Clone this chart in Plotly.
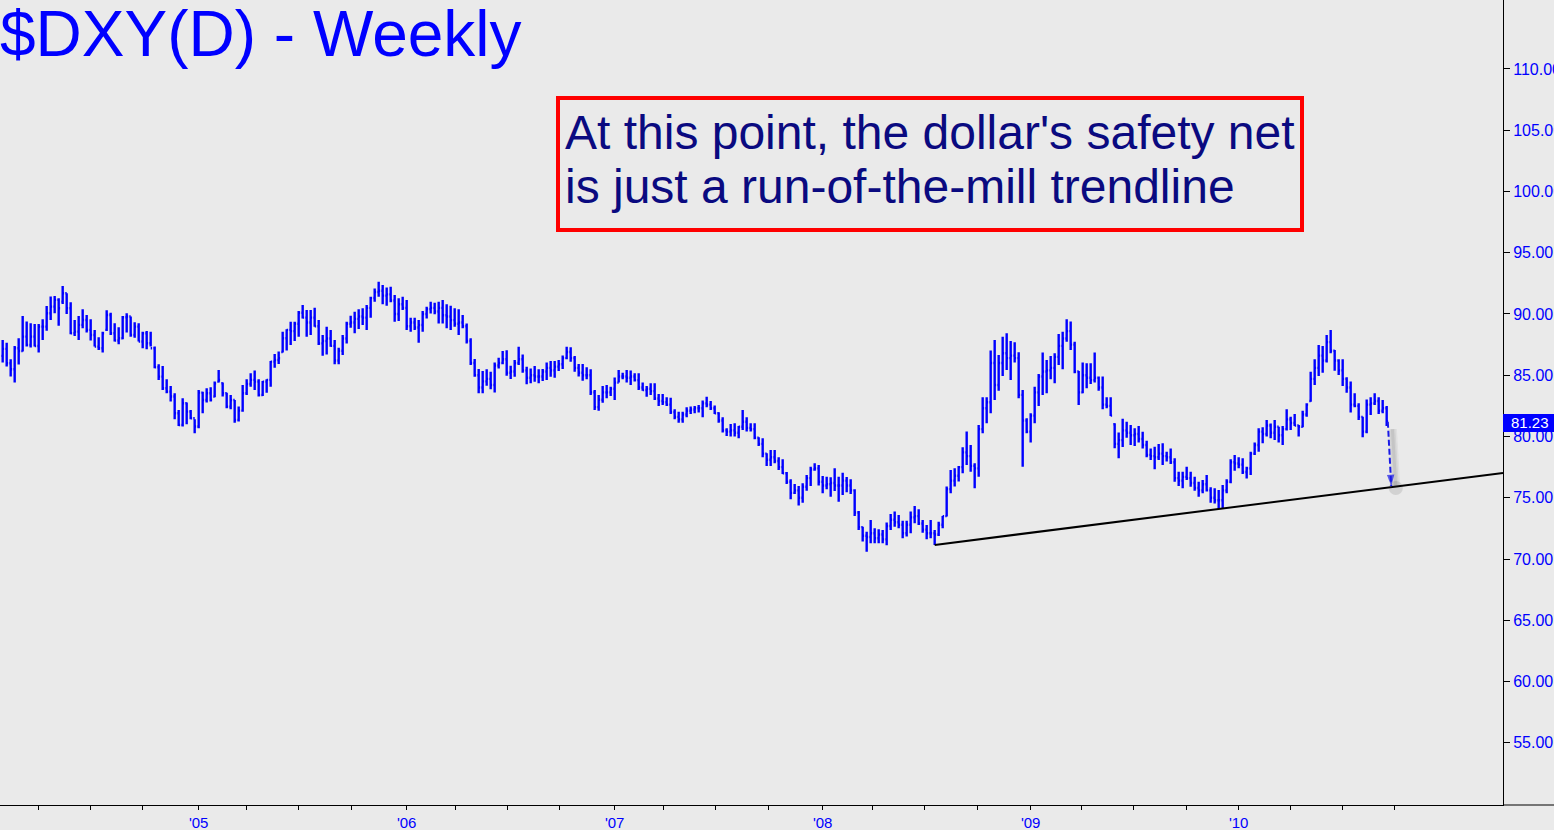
import pandas as pd
import plotly.graph_objects as go

# ---------------- data (weekly DXY bars) ----------------
first_week = "2004-01-30"

opens = [
    86.58, 87.15, 85.98, 85.49, 87.20, 86.98, 88.15, 87.47, 88.15, 87.39,
    88.97, 88.97, 90.06, 90.60, 91.15, 91.01, 91.69, 90.47, 88.43, 88.56,
    89.11, 89.51, 88.70, 88.29, 87.34, 87.20, 88.70, 89.92, 88.43, 87.83,
    88.02, 89.73, 89.79, 88.29, 88.97, 87.75, 88.43, 87.61, 87.20, 85.65,
    84.89, 83.94, 83.66, 83.26, 81.90, 80.94, 82.71, 82.03, 81.49, 80.81,
    83.58, 82.98, 83.53, 83.26, 84.48, 84.35, 83.53, 82.44, 82.98, 81.35,
    82.11, 83.53, 84.29, 84.62, 84.48, 83.39, 84.48, 84.62, 86.11, 86.25,
    86.90, 88.02,
    88.70, 88.60, 89.20, 90.10, 89.70, 89.30, 89.70, 89.00, 87.60, 87.80,
    88.00, 87.40, 86.20, 87.00, 88.00, 89.20, 89.30, 89.60, 89.80, 89.70,
    90.50, 91.30, 91.80, 91.90, 91.50, 91.60, 91.10, 90.00, 90.80, 90.50,
    89.00, 89.30, 88.90, 89.10, 90.00, 90.40, 90.50, 90.20, 90.50, 89.90,
    89.80, 89.50, 89.20, 89.30, 89.00, 87.80, 86.00, 85.00, 84.00, 84.50,
    84.70, 84.20, 85.80, 86.00, 86.30, 85.20, 85.30, 86.00, 86.30, 85.40,
    84.80, 85.00, 84.90, 84.90, 85.30, 85.60, 85.40, 85.70, 85.90, 86.40,
    86.90, 86.40, 85.60, 85.20, 85.00, 85.00, 83.60, 82.40, 83.00, 83.60,
    83.60, 83.90, 84.40, 84.90, 84.90, 84.80, 84.90, 84.60, 84.00, 83.80,
    83.90, 83.70, 83.10, 82.90, 82.80, 82.60, 82.00, 81.60, 81.40, 81.80,
    82.10, 82.20, 82.30, 82.30, 82.70, 82.60, 82.30, 81.90, 81.30, 80.50,
    80.40, 80.50, 80.30, 80.80, 81.20, 80.70, 80.60, 79.90, 79.40, 78.60,
    78.10, 78.30, 78.00, 77.50, 77.00, 76.30, 75.40, 75.60, 75.00, 75.90,
    76.60, 77.30, 77.40, 76.30, 76.00, 76.10, 76.20, 76.00, 76.00, 76.40,
    76.00, 75.60, 73.80, 72.60, 71.90, 71.80, 72.10, 71.70, 72.00, 71.60,
    72.70, 73.20, 73.00, 72.80, 72.10, 72.80, 73.40, 73.50, 72.90, 72.40,
    72.10, 72.10, 72.00, 72.80, 73.50, 75.70, 76.40, 76.80, 77.50, 78.70,
    78.40, 77.60, 77.40, 80.60, 82.30, 82.80, 86.00, 84.20, 86.00, 86.80,
    86.40, 86.60, 86.40, 83.40, 81.30, 80.40, 81.70, 83.60, 84.90, 85.30,
    85.40, 85.60, 86.50, 87.40, 88.00, 88.60, 87.50, 85.30, 83.60, 85.00,
    84.80, 84.60, 84.80, 84.00, 82.60, 82.50, 81.00, 79.40, 79.70, 80.50,
    80.30, 80.10, 80.20, 79.80, 79.30, 78.50, 78.40, 78.30, 78.60, 78.40,
    78.30, 77.90, 76.60, 76.40, 76.70, 76.60, 76.20, 75.80, 75.60, 76.10,
    75.60, 75.00, 74.80, 74.80, 75.60, 76.30, 77.90, 77.80, 77.70, 77.10,
    77.40, 78.60, 79.30, 80.40, 80.20, 80.90, 80.30, 80.80, 80.10, 80.60,
    81.40, 81.10, 80.90, 80.80, 81.80, 82.90, 84.70, 85.60, 86.60, 86.20,
    87.70, 87.00, 86.20, 85.40, 84.70, 84.00, 82.60, 82.50, 81.60, 80.40,
    82.60, 82.70, 82.90, 82.10, 82.30,
]

highs = [
    87.88, 87.66, 86.30, 87.39, 88.02, 89.84, 89.38, 89.24, 89.19, 89.19,
    89.57, 90.66, 91.42, 91.47, 91.28, 92.29, 91.69, 90.96, 89.51, 89.84,
    90.39, 89.92, 89.57, 88.70, 88.10, 88.56, 90.30, 90.11, 89.24, 88.92,
    89.84, 90.06, 89.79, 89.32, 89.24, 88.56, 88.62, 88.56, 87.34, 85.90,
    85.76, 84.67, 84.13, 83.53, 82.17, 83.12, 82.77, 82.17, 81.41, 83.80,
    83.66, 83.94, 84.02, 84.48, 85.43, 84.40, 83.58, 83.39, 82.98, 82.44,
    84.21, 84.67, 85.16, 85.38, 84.67, 84.53, 84.67, 86.17, 86.74, 86.93,
    88.56, 88.75,
    89.37, 89.37, 90.24, 90.73, 90.32, 90.32, 90.51, 89.51, 88.28, 88.96,
    88.69, 87.87, 87.25, 88.28, 89.37, 89.86, 90.19, 90.38, 90.46, 90.73,
    91.41, 92.09, 92.64, 92.36, 92.17, 92.23, 91.55, 91.28, 91.41, 91.14,
    89.70, 89.70, 89.51, 90.24, 90.59, 91.00, 90.92, 91.00, 91.14, 90.79,
    90.68, 90.46, 90.38, 89.91, 89.23, 88.01, 86.32, 85.51, 85.34, 85.48,
    85.29, 86.05, 86.43, 86.98, 87.03, 85.78, 86.24, 87.33, 86.70, 85.70,
    85.56, 85.75, 85.48, 85.51, 86.05, 86.16, 86.16, 86.24, 86.62, 87.33,
    87.28, 86.57, 85.92, 85.92, 85.65, 85.49, 83.80, 83.39, 84.13, 84.21,
    84.07, 84.81, 85.43, 85.21, 85.43, 85.38, 85.16, 85.16, 84.40, 84.13,
    84.34, 84.34, 83.47, 83.47, 83.20, 83.17, 82.22, 82.03, 82.03, 82.38,
    82.44, 82.49, 82.57, 82.93, 83.25, 82.90, 82.52, 81.98, 81.57, 80.67,
    81.02, 81.08, 80.86, 82.17, 81.57, 81.08, 81.08, 79.93, 79.85, 78.63,
    78.90, 78.90, 78.30, 78.14, 77.10, 76.51, 76.12, 75.96, 76.18, 76.86,
    77.54, 77.81, 77.68, 76.78, 76.72, 76.67, 77.40, 76.72, 77.05, 76.70,
    76.51, 75.69, 73.92, 72.64, 72.23, 73.19, 72.51, 72.43, 72.37, 72.97,
    73.68, 73.87, 73.60, 73.13, 73.13, 73.87, 74.33, 74.06, 73.19, 72.78,
    73.19, 72.37, 73.05, 73.51, 75.91, 77.27, 77.40, 77.60, 79.12, 80.40,
    79.31, 77.81, 80.94, 83.20, 83.20, 87.01, 87.88, 86.66, 88.15, 88.43,
    87.80, 87.69, 86.87, 83.80, 81.49, 81.89, 84.07, 85.11, 86.85, 86.25,
    86.57, 86.79, 88.37, 88.56, 89.57, 89.38, 87.74, 85.35, 86.03, 85.98,
    85.98, 86.85, 84.89, 84.89, 83.20, 83.20, 81.08, 80.32, 81.45, 81.20,
    80.94, 80.67, 80.86, 80.39, 79.66, 79.03, 79.17, 79.39, 79.44, 78.76,
    79.03, 78.22, 77.13, 77.13, 77.54, 77.13, 76.72, 76.31, 76.45, 76.86,
    75.85, 75.77, 75.63, 76.04, 76.50, 78.14, 78.49, 78.30, 78.22, 77.54,
    78.76, 79.50, 80.67, 80.75, 81.35, 81.07, 81.35, 80.80, 80.86, 82.22,
    81.62, 81.84, 80.94, 82.11, 82.71, 85.29, 86.30, 87.47, 87.39, 88.29,
    88.69, 87.06, 86.30, 86.30, 84.83, 84.48, 83.52, 82.71, 81.62, 83.03,
    83.20, 83.52, 83.20, 82.98, 82.49,
]

lows = [
    86.03, 85.71, 84.89, 84.40, 85.87, 86.93, 87.34, 87.26, 87.34, 86.85,
    87.88, 88.64, 89.51, 90.06, 89.05, 90.82, 90.00, 88.34, 88.21, 87.88,
    88.83, 88.48, 87.83, 87.34, 87.07, 86.85, 88.62, 88.29, 87.75, 87.53,
    87.94, 88.48, 88.15, 88.07, 87.75, 87.20, 87.12, 87.34, 85.57, 84.62,
    83.80, 83.53, 82.85, 81.41, 80.86, 80.81, 81.00, 81.41, 80.26, 80.67,
    81.90, 82.77, 82.85, 83.20, 84.40, 83.26, 82.30, 82.22, 81.13, 81.22,
    82.03, 83.39, 84.07, 83.80, 83.26, 83.31, 83.58, 84.07, 85.62, 85.92,
    86.85, 87.01,
    87.47, 87.79, 88.15, 89.64, 88.15, 88.28, 88.96, 87.47, 86.60, 86.70,
    87.33, 85.89, 85.89, 86.65, 87.60, 88.88, 88.42, 88.77, 89.10, 88.69,
    89.70, 91.00, 91.41, 90.79, 90.68, 90.95, 89.37, 89.43, 90.32, 88.69,
    88.55, 88.69, 87.66, 88.55, 89.64, 90.05, 89.97, 89.23, 89.23, 88.83,
    88.69, 88.96, 88.28, 88.83, 87.60, 85.83, 84.88, 83.52, 83.52, 84.15,
    83.85, 83.60, 85.56, 85.89, 84.96, 84.69, 84.88, 85.83, 85.21, 84.26,
    84.34, 84.47, 84.34, 84.53, 84.61, 84.88, 84.80, 85.34, 85.50, 86.30,
    86.11, 85.29, 84.89, 84.56, 84.67, 83.39, 82.17, 82.11, 82.76, 83.12,
    83.31, 82.98, 84.40, 84.67, 84.40, 84.21, 84.48, 83.80, 83.74, 83.25,
    83.39, 82.98, 82.49, 82.57, 82.49, 81.84, 81.40, 81.13, 81.13, 81.57,
    81.84, 81.89, 81.95, 81.57, 82.38, 82.17, 81.84, 81.13, 80.32, 80.04,
    79.99, 79.99, 79.85, 80.53, 80.40, 80.40, 79.77, 79.23, 78.30, 77.59,
    77.59, 77.81, 77.27, 76.94, 76.12, 74.87, 75.31, 74.36, 74.60, 75.58,
    75.96, 77.21, 75.99, 75.36, 75.69, 75.09, 75.55, 74.68, 75.23, 75.45,
    75.31, 73.51, 72.37, 71.42, 70.60, 71.28, 71.28, 71.28, 71.28, 71.12,
    72.37, 72.64, 72.51, 71.69, 71.83, 72.10, 72.92, 72.78, 72.15, 71.61,
    71.69, 71.15, 71.88, 72.51, 73.46, 75.36, 75.91, 76.32, 76.99, 77.68,
    77.13, 75.77, 76.72, 80.26, 81.08, 81.89, 82.98, 83.74, 84.94, 85.43,
    84.62, 86.03, 83.12, 77.54, 80.26, 79.50, 81.08, 82.49, 83.39, 83.53,
    84.67, 84.34, 85.84, 85.49, 87.74, 87.06, 85.16, 82.57, 83.53, 83.94,
    84.29, 84.40, 83.74, 82.22, 82.30, 81.68, 79.04, 78.22, 79.15, 79.90,
    79.31, 79.22, 79.50, 79.03, 78.30, 78.08, 77.32, 78.08, 77.67, 77.95,
    77.75, 76.31, 75.96, 75.77, 76.45, 75.90, 75.58, 75.09, 75.36, 75.50,
    74.60, 74.54, 74.10, 74.15, 75.36, 76.18, 77.21, 77.40, 76.94, 76.58,
    76.86, 78.49, 78.76, 79.44, 79.99, 79.85, 79.71, 79.50, 79.31, 80.48,
    80.53, 80.86, 79.99, 80.75, 81.62, 82.84, 84.20, 84.94, 85.21, 86.03,
    86.79, 85.37, 85.02, 84.12, 83.58, 81.95, 82.38, 81.35, 79.93, 80.26,
    81.75, 82.57, 81.84, 81.89, 80.86,
]

closes = [
    87.15, 85.98, 85.49, 87.20, 86.98, 88.15, 87.47, 88.15, 87.39, 88.97,
    88.97, 90.06, 90.60, 91.15, 90.47, 91.69, 90.47, 88.43, 88.56, 89.11,
    89.51, 88.70, 88.29, 87.34, 87.20, 88.43, 89.92, 88.43, 87.83, 88.02,
    89.73, 89.79, 88.29, 88.97, 87.75, 88.43, 87.61, 87.20, 85.65, 84.89,
    83.94, 83.66, 83.26, 81.90, 80.94, 82.71, 82.03, 81.49, 80.81, 83.58,
    82.98, 83.53, 82.98, 84.34, 84.62, 83.53, 82.44, 82.98, 81.35, 82.11,
    83.53, 84.29, 84.62, 84.48, 83.39, 84.48, 84.62, 86.11, 86.25, 86.39,
    88.02, 88.70,
    88.60, 89.20, 90.10, 89.70, 89.30, 89.70, 89.00, 87.60, 87.80, 88.00,
    87.40, 86.20, 87.00, 88.00, 89.20, 89.30, 89.60, 89.80, 89.70, 90.50,
    91.30, 91.80, 91.90, 91.50, 91.60, 91.10, 90.00, 90.80, 90.50, 89.00,
    89.30, 88.90, 89.10, 90.00, 90.40, 90.50, 90.20, 90.50, 89.90, 89.80,
    89.50, 89.20, 89.30, 89.00, 87.80, 86.00, 85.00, 84.00, 84.50, 84.70,
    84.20, 85.80, 86.00, 86.30, 85.20, 85.30, 86.00, 86.30, 85.40, 84.80,
    85.00, 84.90, 84.90, 85.30, 85.60, 85.40, 85.70, 85.90, 86.40, 86.90,
    86.40, 85.60, 85.20, 85.00, 85.00, 83.60, 82.40, 83.00, 83.60, 83.60,
    83.90, 84.40, 84.90, 84.90, 84.80, 84.90, 84.60, 84.00, 83.80, 83.90,
    83.70, 83.10, 82.90, 82.80, 82.60, 82.00, 81.60, 81.40, 81.80, 82.10,
    82.20, 82.30, 82.30, 82.70, 82.60, 82.30, 81.90, 81.30, 80.50, 80.40,
    80.50, 80.30, 80.80, 81.20, 80.70, 80.60, 79.90, 79.40, 78.60, 78.10,
    78.30, 78.00, 77.50, 77.00, 76.30, 75.40, 75.60, 75.00, 75.90, 76.60,
    77.30, 77.40, 76.30, 76.00, 76.10, 76.20, 76.00, 76.00, 76.40, 76.00,
    75.60, 73.80, 72.60, 71.90, 71.80, 72.10, 71.70, 72.00, 71.60, 72.70,
    73.20, 73.00, 72.80, 72.10, 72.80, 73.40, 73.50, 72.90, 72.40, 72.10,
    72.10, 72.00, 72.80, 73.50, 75.70, 76.40, 76.80, 77.50, 78.70, 78.40,
    77.60, 77.40, 80.60, 82.30, 82.80, 86.00, 84.20, 86.00, 86.80, 86.40,
    86.60, 86.40, 83.40, 81.30, 80.40, 81.70, 83.60, 84.90, 85.30, 85.40,
    85.60, 86.50, 87.40, 88.00, 88.60, 87.50, 85.30, 83.60, 85.00, 84.80,
    84.60, 84.80, 84.00, 82.60, 82.50, 81.70, 79.40, 79.70, 80.50, 80.30,
    80.10, 80.20, 79.80, 79.30, 78.50, 78.40, 78.30, 78.60, 78.40, 78.30,
    77.90, 76.60, 76.40, 76.70, 76.60, 76.20, 75.80, 75.60, 76.10, 75.60,
    75.00, 74.80, 74.80, 75.60, 76.30, 77.90, 77.80, 77.70, 77.10, 77.40,
    78.60, 79.30, 80.40, 80.20, 80.90, 80.30, 80.80, 80.10, 80.60, 81.40,
    81.10, 80.90, 80.80, 81.80, 82.60, 84.70, 85.60, 86.60, 86.20, 87.70,
    87.00, 86.20, 85.40, 84.70, 84.00, 82.60, 82.50, 81.60, 80.40, 82.60,
    82.70, 82.90, 82.10, 82.30, 81.23,
]

assert len(opens) == len(highs) == len(lows) == len(closes), (
    len(opens), len(highs), len(lows), len(closes))

year_tick_dates = ["2005-01-07", "2006-01-06", "2007-01-05",
                   "2008-01-04", "2009-01-02", "2010-01-01"]
year_tick_labels = ["'05", "'06", "'07", "'08", "'09", "'10"]
price_ticks = [55, 60, 65, 70, 75, 80, 85, 90, 95, 100, 105, 110]
last_price = 81.23

trend_start_date = "2008-07-18"
trend_values = [71.15, 77.02]          # start of trendline, value at right edge
arrow_dates = ["2010-09-19", "2010-09-25"]
arrow_values = [81.2, 75.95]

title_text = "$DXY(D) - Weekly"
note_lines = ["At this point, the dollar's safety net",
              "is just a run-of-the-mill trendline"]

# ---------------- figure ----------------
W, H = 1554, 830
ML, MR, MT, MB = 0, 51, 0, 25
PW, PH = W - ML - MR, H - MT - MB

def px(x):
    return (x - ML) / PW

def py(y):
    return 1 - (y - MT) / PH

BG = "#EAEAEA"
BLUE = "#0000FF"
FONT = "Liberation Sans, Arial, sans-serif"

t0 = pd.Timestamp(first_week)
dates = pd.date_range(t0, periods=len(closes), freq="7D")
week = pd.Timedelta(days=7)
x_start = t0 - week * 0.67
x_end = t0 + week * 375.08

minor_ticks = [d for d in pd.date_range("2004-04-01", "2010-10-01", freq="QS")
               if d.month != 1]

fig = go.Figure()

fig.add_trace(go.Ohlc(
    x=dates, open=opens, high=highs, low=lows, close=closes,
    increasing=dict(line=dict(color=BLUE, width=2.4)),
    decreasing=dict(line=dict(color=BLUE, width=2.4)),
    tickwidth=0.35, showlegend=False, hoverinfo="skip",
))

# trendline
fig.add_trace(go.Scatter(
    x=[pd.Timestamp(trend_start_date), x_end], y=trend_values,
    mode="lines", line=dict(color="black", width=2),
    showlegend=False, hoverinfo="skip", cliponaxis=False,
))

# arrow shadow (soft)
shadow_dates = [pd.Timestamp(d) + pd.Timedelta(days=8) for d in arrow_dates]
for w, a in [(9, 0.05), (6, 0.07), (3, 0.08)]:
    fig.add_trace(go.Scatter(
        x=shadow_dates, y=[arrow_values[0] - 0.6, arrow_values[1] - 0.1],
        mode="lines", line=dict(color=f"rgba(40,40,40,{a})", width=w),
        showlegend=False, hoverinfo="skip",
    ))
fig.add_trace(go.Scatter(
    x=[shadow_dates[1]], y=[arrow_values[1] - 0.15],
    mode="markers", marker=dict(size=14, color="rgba(40,40,40,0.12)"),
    showlegend=False, hoverinfo="skip",
))
# dashed arrow
fig.add_trace(go.Scatter(
    x=[pd.Timestamp(d) for d in arrow_dates], y=arrow_values,
    mode="lines", line=dict(color="#1A1AE6", width=2, dash="6px,3px"),
    showlegend=False, hoverinfo="skip",
))
fig.add_trace(go.Scatter(
    x=[pd.Timestamp(d) for d in arrow_dates], y=arrow_values,
    mode="markers",
    marker=dict(symbol="arrow", angleref="previous", size=[0, 12],
                color="#1A1AE6", line=dict(width=0)),
    showlegend=False, hoverinfo="skip",
))

shapes = [
    # red note box
    dict(type="rect", xref="paper", yref="paper",
         x0=px(558), x1=px(1302), y0=py(230), y1=py(98),
         line=dict(color="#FF0000", width=4), fillcolor="rgba(0,0,0,0)"),
    # last price tag
    dict(type="rect", xref="paper", yref="paper",
         x0=1.0, x1=px(1560), y0=py(432), y1=py(414),
         line=dict(width=0), fillcolor=BLUE, layer="above"),
    # x axis line extension under the price scale
    dict(type="line", xref="paper", yref="paper",
         x0=1.0, x1=px(1560), y0=0, y1=0,
         line=dict(color="black", width=1)),
]

annotations = [
    dict(text=title_text, xref="paper", yref="paper", x=px(-2), y=py(34),
         xanchor="left", yanchor="middle", showarrow=False,
         font=dict(family=FONT, size=64, color=BLUE)),
    dict(text=note_lines[0], xref="paper", yref="paper", x=px(563), y=py(132),
         xanchor="left", yanchor="middle", showarrow=False,
         font=dict(family=FONT, size=48, color="#0A0A80")),
    dict(text=note_lines[1], xref="paper", yref="paper", x=px(563), y=py(186),
         xanchor="left", yanchor="middle", showarrow=False,
         font=dict(family=FONT, size=48, color="#0A0A80")),
    dict(text=f"{last_price:.2f}", xref="paper", yref="paper", x=px(1509),
         y=py(423), xanchor="left", yanchor="middle", showarrow=False,
         font=dict(family=FONT, size=15, color="white")),
]

fig.update_layout(
    width=W, height=H, autosize=False,
    margin=dict(l=ML, r=MR, t=MT, b=MB, pad=0),
    paper_bgcolor=BG, plot_bgcolor=BG,
    showlegend=False,
    shapes=shapes, annotations=annotations,
    xaxis=dict(
        type="date", range=[x_start, x_end],
        rangeslider=dict(visible=False),
        showgrid=False, zeroline=False,
        showline=True, linecolor="black", linewidth=1,
        tickmode="array", tickvals=year_tick_dates, ticktext=year_tick_labels,
        ticks="outside", ticklen=4, tickcolor="black", tickwidth=1,
        tickfont=dict(family=FONT, size=15, color=BLUE),
        minor=dict(tickvals=minor_ticks, ticks="outside", ticklen=4,
                   tickcolor="black", tickwidth=1, showgrid=False),
        automargin=False, fixedrange=True,
    ),
    yaxis=dict(
        side="right", range=[49.92, 115.63],
        showgrid=False, zeroline=False,
        showline=True, linecolor="black", linewidth=1,
        tickmode="array", tickvals=price_ticks,
        ticktext=[f"{v:.2f}" for v in price_ticks],
        ticks="outside", ticklen=6, tickcolor="black", tickwidth=1,
        tickfont=dict(family=FONT, size=16, color=BLUE),
        automargin=False, fixedrange=True,
    ),
)

fig.write_html(
    "out.html",
    config=dict(displayModeBar=False),
    post_script=("document.body.style.margin='0';"
                 "document.body.style.overflow='hidden';"
                 "document.body.style.background='" + BG + "';"),
)
